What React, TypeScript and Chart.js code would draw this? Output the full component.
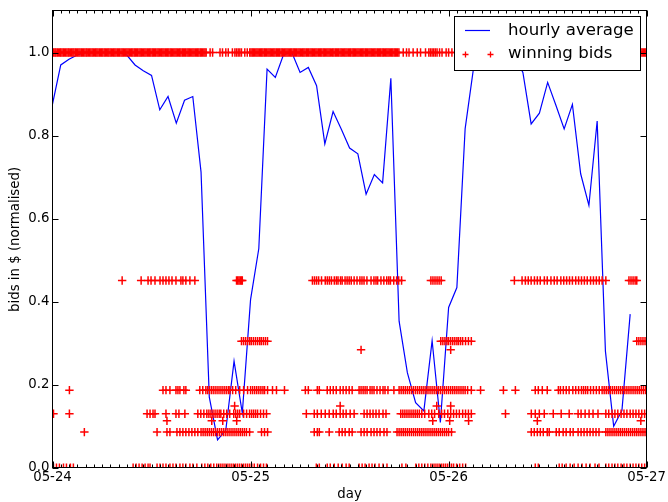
import { useEffect, useRef } from "react";
import { Chart, registerables } from "chart.js";

Chart.register(...registerables);

// ---- axis labels ----
const dayLabels = ["05-24", "05-25", "05-26", "05-27"];
const dayTickHours = [0, 24, 48, 72];
const yTickValues = [0, 0.2, 0.4, 0.6, 0.8, 1.0];

// ---- hourly average (one value per hour from 05-24 00:00) ----
const hourlyAverage = [
  0.876, 0.97, 0.984, 0.994, 1.0, 1.0, 1.0, 1.0, 1.0, 0.994, 0.97, 0.956, 0.945, 0.862, 0.894, 0.83, 0.885, 0.894,
  0.712, 0.17, 0.067, 0.091, 0.257, 0.132, 0.405, 0.528, 0.96, 0.94, 0.995, 1.0, 0.952, 0.964, 0.92, 0.78, 0.858,
  0.815, 0.77, 0.756, 0.659, 0.706, 0.686, 0.938, 0.353, 0.229, 0.157, 0.137, 0.306, 0.109, 0.386, 0.434, 0.816,
  0.96, 1.0, 1.0, 1.0, 1.0, 0.99, 0.952, 0.828, 0.854, 0.928, 0.873, 0.816, 0.875, 0.708, 0.632, 0.835, 0.281,
  0.1, 0.138, 0.37,
];

// ---- winning bids: hours (from 05-24 00:00) at each bid level ----
const bidHoursAt100 = [
  0, 0.15, 0.3, 0.42, 0.58, 0.72, 0.88, 1.0, 1.15, 1.3, 1.44, 1.6, 1.75, 1.9, 2.02, 2.18, 2.33, 2.47, 2.6, 2.76, 2.9,
  3.05, 3.2, 3.34, 3.5, 3.63, 3.78, 3.93, 4.08, 4.2, 4.36, 4.5, 4.65, 4.8, 4.94, 5.1, 5.24, 5.38, 5.52, 5.68, 5.82,
  5.96, 6.1, 6.26, 6.4, 6.55, 6.7, 6.83, 6.98, 7.12, 7.28, 7.42, 7.56, 7.7, 7.86, 8.0, 8.14, 8.3, 8.44, 8.58, 8.72,
  8.88, 9.02, 9.16, 9.3, 9.46, 9.6, 9.74, 9.9, 10.04, 10.18, 10.32, 10.48, 10.62, 10.76, 10.9, 11.06, 11.2, 11.34,
  11.5, 11.64, 11.78, 11.92, 12.08, 12.22, 12.36, 12.5, 12.66, 12.8, 12.94, 13.1, 13.24, 13.38, 13.52, 13.68, 13.82,
  13.96, 14.1, 14.26, 14.4, 14.54, 14.7, 14.84, 14.98, 15.12, 15.28, 15.42, 15.56, 15.72, 15.86, 16.0, 16.14, 16.3,
  16.44, 16.58, 16.72, 16.88, 17.02, 17.16, 17.32, 17.46, 17.6, 17.74, 17.9, 18.04, 18.18, 18.34, 18.48, 18.62,
  19.1, 19.4, 20.3, 20.6, 21.0, 21.3, 21.8, 22.1, 22.3, 22.5, 22.7, 22.9, 23.3, 23.6,
  23.9, 24.05, 24.2, 24.34, 24.48, 24.64, 24.78, 24.92, 25.08, 25.22, 25.36, 25.5, 25.66, 25.8, 25.94, 26.1, 26.24,
  26.38, 26.52, 26.68, 26.82, 26.96, 27.12, 27.26, 27.4, 27.54, 27.7, 27.84, 27.98, 28.14, 28.28, 28.42, 28.56,
  28.72, 28.86, 29.0, 29.16, 29.3, 29.44, 29.58, 29.74, 29.88, 30.02, 30.18, 30.32, 30.46, 30.6, 30.76, 30.9, 31.04,
  31.2, 31.34, 31.48, 31.62, 31.78, 31.92, 32.06, 32.22, 32.36, 32.5, 32.64, 32.8, 32.94, 33.08, 33.24, 33.38,
  33.52, 33.66, 33.82, 33.96, 34.1, 34.26, 34.4, 34.54, 34.68, 34.84, 34.98, 35.12, 35.28, 35.42, 35.56, 35.7,
  35.86, 36.0, 36.14, 36.3, 36.44, 36.58, 36.72, 36.88, 37.02, 37.16, 37.32, 37.46, 37.6, 37.74, 37.9, 38.04,
  38.18, 38.34, 38.48, 38.62, 38.76, 38.92, 39.06, 39.2, 39.36, 39.5, 39.64, 39.78, 39.94, 40.08, 40.22, 40.38,
  40.52, 40.66, 40.8, 40.96, 41.1, 41.24, 41.4, 41.54, 41.68, 41.82, 41.98,
  42.5, 42.9, 43.2, 43.7, 44.2, 44.6, 45.2, 45.6, 45.8, 46.0, 46.2, 46.4, 46.6, 46.9, 47.2, 47.7, 48.0,
  48.4, 48.9, 49.5, 50.1, 50.8, 51.5, 52.3, 53.0, 53.8, 54.5, 55.3, 56.0, 56.8, 57.5, 58.3, 59.0, 59.8, 60.5, 61.3,
  62.0, 62.8, 63.5, 64.3, 65.0, 65.8, 66.5, 67.3, 68.0, 68.8, 69.5, 70.3, 70.9,
  71.1, 71.3, 71.45, 71.6, 71.75, 71.9, 72.0,
];

const bidHoursAt045 = [
  8.44, 10.74, 11.58, 11.94, 12.42, 13.03, 13.39, 13.75, 14.11, 14.48, 14.96, 15.56, 15.8, 16.16, 16.65, 17.25,
  22.3, 22.45, 22.6, 22.75, 22.9, 23.0,
  31.5, 31.75, 32.0, 32.25, 32.6, 33.05, 33.3, 33.55, 33.8, 34.15, 34.4, 34.6, 34.9, 35.1, 35.45, 35.7, 35.95, 36.2,
  36.55, 36.9, 37.25, 37.5, 37.75, 38.1, 38.6, 38.95, 39.2, 39.4, 39.8, 40.15, 40.5, 40.75, 40.95, 41.35, 41.7,
  41.95, 42.3, 45.85, 46.1, 46.35, 46.6, 46.85, 47.1,
  55.97, 56.9, 57.3, 57.65, 58.0, 58.4, 58.75, 59.1, 59.6, 59.95, 60.4, 60.8, 61.15, 61.6, 61.95, 62.3, 62.65, 63.0,
  63.4, 63.75, 64.1, 64.45, 64.8, 65.2, 65.55, 65.9, 66.25, 66.6, 67.05, 69.85, 70.1, 70.35, 70.6, 70.8,
];

const bidHoursAt031 = [
  22.9, 23.15, 23.4, 23.65, 23.9, 24.1, 24.35, 24.6, 24.85, 25.1, 25.3, 25.55, 25.8, 26.05,
  47.05, 47.3, 47.55, 47.8, 48.0, 48.25, 48.5, 48.75, 49.0, 49.2, 49.45, 49.7, 50.05, 50.4, 50.75,
  70.8, 71.05, 71.3, 71.55, 71.8, 72.0,
];

const bidHoursAt028 = [37.39, 48.25];

const bidHoursAt019 = [
  2.05, 13.39, 13.75, 14.23, 14.96, 15.2, 15.44, 15.92, 16.16, 17.85, 18.21, 18.58, 18.8, 19.05, 19.3, 19.55, 19.8,
  20.05, 20.3, 20.55, 20.8, 21.05, 21.3, 21.5, 21.83, 22.2, 22.68, 23.16, 23.64, 24.0, 24.25, 24.5, 24.75, 25.0,
  25.25, 25.5, 25.7, 26.06, 26.66, 27.14, 28.11, 30.64, 31.0, 32.09, 32.33, 33.29, 33.66, 34.02, 34.38, 34.86,
  35.22, 35.58, 35.95, 36.31, 37.15, 37.39, 37.64, 37.88, 38.12, 38.48, 38.72, 38.96, 39.32, 39.69, 40.05, 40.29,
  40.65, 41.37, 42.0, 42.25, 42.5, 42.75, 43.0, 43.25, 43.5, 43.75, 44.0, 44.25, 44.5, 44.75, 45.0, 45.25, 45.5,
  45.75, 46.0, 46.25, 46.5, 46.75, 47.0, 47.25, 47.5, 47.75, 48.0, 48.25, 48.5, 48.75, 49.0, 49.25, 49.5, 49.75,
  50.0, 50.3, 50.75, 51.87, 54.64, 56.09, 58.5, 58.87, 59.35, 59.95, 61.3, 61.55, 61.9, 62.25, 62.6, 63.05, 63.4,
  63.75, 64.1, 64.35, 64.6, 64.85, 65.2, 65.55, 65.9, 66.25, 66.6, 66.85, 67.1, 67.35, 67.6, 67.85, 68.1, 68.35,
  68.6, 68.85, 69.1, 69.35, 69.6, 69.85, 70.1, 70.35, 70.6, 70.85, 71.1, 71.35, 71.6, 71.85,
];

const bidHoursAt015 = [22.07, 34.86, 46.56, 48.25];

const bidHoursAt013 = [
  0.12, 2.05, 11.46, 11.82, 12.18, 12.42, 13.75, 14.96, 15.32, 16.04, 17.61, 17.97, 18.34, 18.7, 18.95, 19.2, 19.45,
  19.7, 19.95, 20.2, 20.4, 20.75, 21.11, 21.47, 21.96, 22.2, 22.44, 22.68, 23.16, 23.52, 23.88, 24.13, 24.37, 24.61,
  24.85, 25.21, 25.57, 25.93, 30.76, 31.72, 32.09, 32.57, 33.05, 33.53, 34.02, 34.38, 34.86, 35.22, 35.58, 36.07,
  36.55, 37.76, 38.12, 38.48, 38.84, 39.2, 39.57, 40.05, 40.41, 42.2, 42.45, 42.7, 42.95, 43.2, 43.45, 43.7, 43.95,
  44.2, 44.45, 44.75, 45.1, 45.6, 45.95, 46.3, 46.8, 47.15, 47.5, 47.9, 48.25, 48.6, 48.95, 49.3, 49.7, 50.05, 50.4,
  50.75, 54.89, 58.02, 58.5, 58.99, 59.59, 60.68, 61.64, 62.61, 63.69, 64.05, 64.54, 65.02, 65.5, 66.1, 67.05,
  67.4, 67.8, 68.15, 68.5, 68.9, 69.25, 69.6, 70.0, 70.35, 70.7, 71.05, 71.4, 71.75,
];

const bidHoursAt011 = [13.87, 19.3, 20.63, 22.32, 46.08, 48.13, 50.42, 58.75, 71.29];

const bidHoursAt009 = [
  3.86, 12.67, 13.87, 14.23, 15.08, 15.44, 15.8, 16.16, 16.53, 16.89, 17.25, 17.61, 18.0, 18.25, 18.5, 18.75, 19.0,
  19.25, 19.5, 19.75, 20.0, 20.25, 20.5, 20.75, 21.0, 21.25, 21.5, 21.75, 22.0, 22.25, 22.5, 22.75, 23.0, 23.25,
  23.5, 23.88, 25.33, 25.69, 26.06, 31.72, 32.09, 32.33, 33.53, 34.74, 35.1, 35.46, 35.95, 36.31, 37.39, 37.76,
  38.12, 38.6, 38.96, 39.32, 39.69, 40.17, 40.53, 41.75, 42.0, 42.25, 42.5, 42.75, 43.0, 43.25, 43.5, 43.75, 44.0,
  44.25, 44.5, 44.75, 45.0, 45.25, 45.5, 45.75, 46.0, 46.25, 46.5, 46.75, 47.0, 47.25, 47.5, 47.75, 48.0, 48.35,
  58.02, 58.38, 58.75, 59.11, 59.47, 59.95, 60.19, 61.04, 61.4, 61.88, 62.24, 62.73, 63.09, 63.69, 64.05, 64.41,
  64.78, 65.14, 65.5, 65.86, 66.22, 67.05, 67.3, 67.55, 67.8, 68.05, 68.3, 68.55, 68.8, 69.05, 69.3, 69.55, 69.8,
  70.05, 70.3, 70.55, 70.8, 71.05, 71.3, 71.55, 71.8,
];

const bidHoursAt000 = [
  0.12, 0.48, 0.84, 1.33, 1.69, 2.17, 2.53, 9.77, 10.13, 10.49, 10.86, 11.22, 11.58, 11.82, 12.67, 13.03, 13.39,
  13.75, 14.23, 14.6, 14.96, 15.44, 15.8, 16.16, 16.65, 17.01, 17.49, 18.09, 18.46, 18.82, 19.18, 19.54, 19.9, 20.15,
  20.4, 20.65, 20.9, 21.15, 21.4, 21.65, 21.9, 22.15, 22.4, 22.65, 22.9, 23.15, 23.4, 23.65, 23.9, 24.15, 24.45,
  24.85, 25.21, 25.57, 25.93, 31.97, 32.33, 33.29, 33.66, 34.14, 34.62, 35.1, 35.58, 35.95, 37.15, 37.52, 37.88,
  38.36, 38.72, 39.08, 39.57, 40.05, 40.53, 42.34, 42.82, 44.03, 44.39, 44.75, 45.11, 45.48, 45.85, 46.1, 46.35,
  46.6, 46.85, 47.1, 47.35, 47.6, 47.85, 48.1, 48.35, 48.6, 48.97, 49.34, 49.7, 50.06, 58.5, 58.87, 61.4, 61.76,
  62.24, 62.73, 63.21, 63.69, 64.17, 64.66, 65.14, 65.74, 66.22, 67.05, 67.4, 67.8, 68.15, 68.5, 68.9, 69.25, 69.6,
  70.0, 70.35, 70.7, 71.05, 71.4, 71.75,
];

const bidLevels = [1.0, 0.451, 0.305, 0.284, 0.187, 0.149, 0.13, 0.113, 0.086, 0.0];
const bidHoursByLevel = [
  bidHoursAt100, bidHoursAt045, bidHoursAt031, bidHoursAt028, bidHoursAt019,
  bidHoursAt015, bidHoursAt013, bidHoursAt011, bidHoursAt009, bidHoursAt000,
];

const FONT = "'DejaVu Sans', 'Liberation Sans', sans-serif";

const framePlugin = {
  id: "mplFrame",
  afterDraw(chart: any) {
    const { ctx, chartArea: a, scales } = chart;
    const xs = scales.x;
    const ys = scales.y;
    const L = 52.5;
    const R = Math.floor(a.right) + 0.5;
    const T = Math.floor(a.top) + 0.5;
    const B = Math.floor(a.bottom) + 0.5;
    ctx.save();
    ctx.strokeStyle = "#000";
    ctx.lineWidth = 1;
    ctx.beginPath();
    // x ticks (hourly minor, daily major), inward on bottom and top
    for (let h = 0; h <= 72; h++) {
      const px = Math.round(xs.getPixelForValue(h)) + 0.5;
      const len = dayTickHours.includes(h) ? 6 : 3;
      ctx.moveTo(px, B);
      ctx.lineTo(px, B - len);
      ctx.moveTo(px, T);
      ctx.lineTo(px, T + len);
    }
    for (const v of yTickValues) {
      const py = Math.round(ys.getPixelForValue(v)) + 0.5;
      ctx.moveTo(L, py);
      ctx.lineTo(L + 6, py);
      ctx.moveTo(R, py);
      ctx.lineTo(R - 6, py);
    }
    ctx.stroke();
    ctx.strokeRect(L, T, R - L, B - T);

    // legend box
    const bx = 454.5, by = 16.5, bw = 186, bh = 54;
    ctx.fillStyle = "#fff";
    ctx.fillRect(bx, by, bw, bh);
    ctx.strokeStyle = "#000";
    ctx.strokeRect(bx, by, bw, bh);
    ctx.strokeStyle = "#0000ff";
    ctx.lineWidth = 1.2;
    ctx.beginPath();
    ctx.moveTo(465, 30.5);
    ctx.lineTo(490, 30.5);
    ctx.stroke();
    ctx.strokeStyle = "#ff0000";
    ctx.lineWidth = 1.3;
    ctx.beginPath();
    for (const cx of [465.5, 490.5]) {
      ctx.moveTo(cx - 3, 54.5);
      ctx.lineTo(cx + 3, 54.5);
      ctx.moveTo(cx, 51.5);
      ctx.lineTo(cx, 57.5);
    }
    ctx.stroke();
    ctx.fillStyle = "#000";
    ctx.font = `16.6px ${FONT}`;
    ctx.textAlign = "left";
    ctx.textBaseline = "middle";
    ctx.fillText("hourly average", 508, 30.5);
    ctx.fillText("winning bids", 508, 54);
    ctx.restore();
  },
};

export default function App() {
  const ref = useRef<HTMLCanvasElement | null>(null);

  useEffect(() => {
    if (!ref.current) return;
    const bidPoints: { x: number; y: number }[] = [];
    bidHoursByLevel.forEach((hours, i) => {
      hours.forEach((h) => bidPoints.push({ x: h, y: bidLevels[i] }));
    });
    const avgPoints = hourlyAverage.map((v, i) => ({ x: i, y: v }));

    const chart = new Chart(ref.current, {
      type: "scatter",
      data: {
        datasets: [
          {
            label: "winning bids",
            data: bidPoints,
            pointStyle: "cross",
            pointRadius: 4.2,
            pointBorderWidth: 1.5,
            pointBorderColor: "#ff0000",
            pointBackgroundColor: "#ff0000",
            showLine: false,
            clip: 0,
          } as any,
          {
            type: "line",
            label: "hourly average",
            data: avgPoints,
            borderColor: "#0000ff",
            borderWidth: 1.2,
            pointRadius: 0,
            tension: 0,
            fill: false,
            clip: 0,
          } as any,
        ],
      },
      options: {
        responsive: false,
        animation: false,
        devicePixelRatio: 1,
        events: [],
        layout: { padding: { top: 8.3, right: 19.5, left: 0, bottom: 0 } },
        plugins: { legend: { display: false }, tooltip: { enabled: false } },
        scales: {
          x: {
            type: "linear",
            min: 0,
            max: 72,
            grid: { display: false, drawTicks: false },
            border: { display: false },
            afterBuildTicks: (s: any) => {
              s.ticks = dayTickHours.map((v) => ({ value: v }));
            },
            afterFit: (s: any) => {
              s.height = 34.2;
            },
            ticks: {
              autoSkip: false,
              maxRotation: 0,
              padding: 2,
              color: "#000",
              font: { family: FONT, size: 13.3 },
              callback: (_v: any, i: number) => dayLabels[i],
            },
            title: {
              display: true,
              text: "day",
              color: "#000",
              font: { family: FONT, size: 13.3 },
              padding: { top: 0, bottom: -1 },
            },
          },
          y: {
            type: "linear",
            min: 0,
            max: 1.1,
            grid: { display: false, drawTicks: false },
            border: { display: false },
            afterBuildTicks: (s: any) => {
              s.ticks = yTickValues.map((v) => ({ value: v }));
            },
            afterFit: (s: any) => {
              s.width = 52.5;
            },
            ticks: {
              padding: 3,
              color: "#000",
              font: { family: FONT, size: 13.3 },
              callback: (v: any) => Number(v).toFixed(1),
            },
            title: {
              display: true,
              text: "bids in $ (normalised)",
              color: "#000",
              font: { family: FONT, size: 13.3 },
              padding: { top: 7.5, bottom: 0 },
            },
          },
        },
      },
      plugins: [framePlugin],
    });
    return () => chart.destroy();
  }, []);

  return (
    <div style={{ position: "absolute", left: 0, top: 0, width: 668, height: 502, background: "#fff" }}>
      <canvas ref={ref} width={668} height={502} style={{ display: "block", width: 668, height: 502 }} />
    </div>
  );
}
